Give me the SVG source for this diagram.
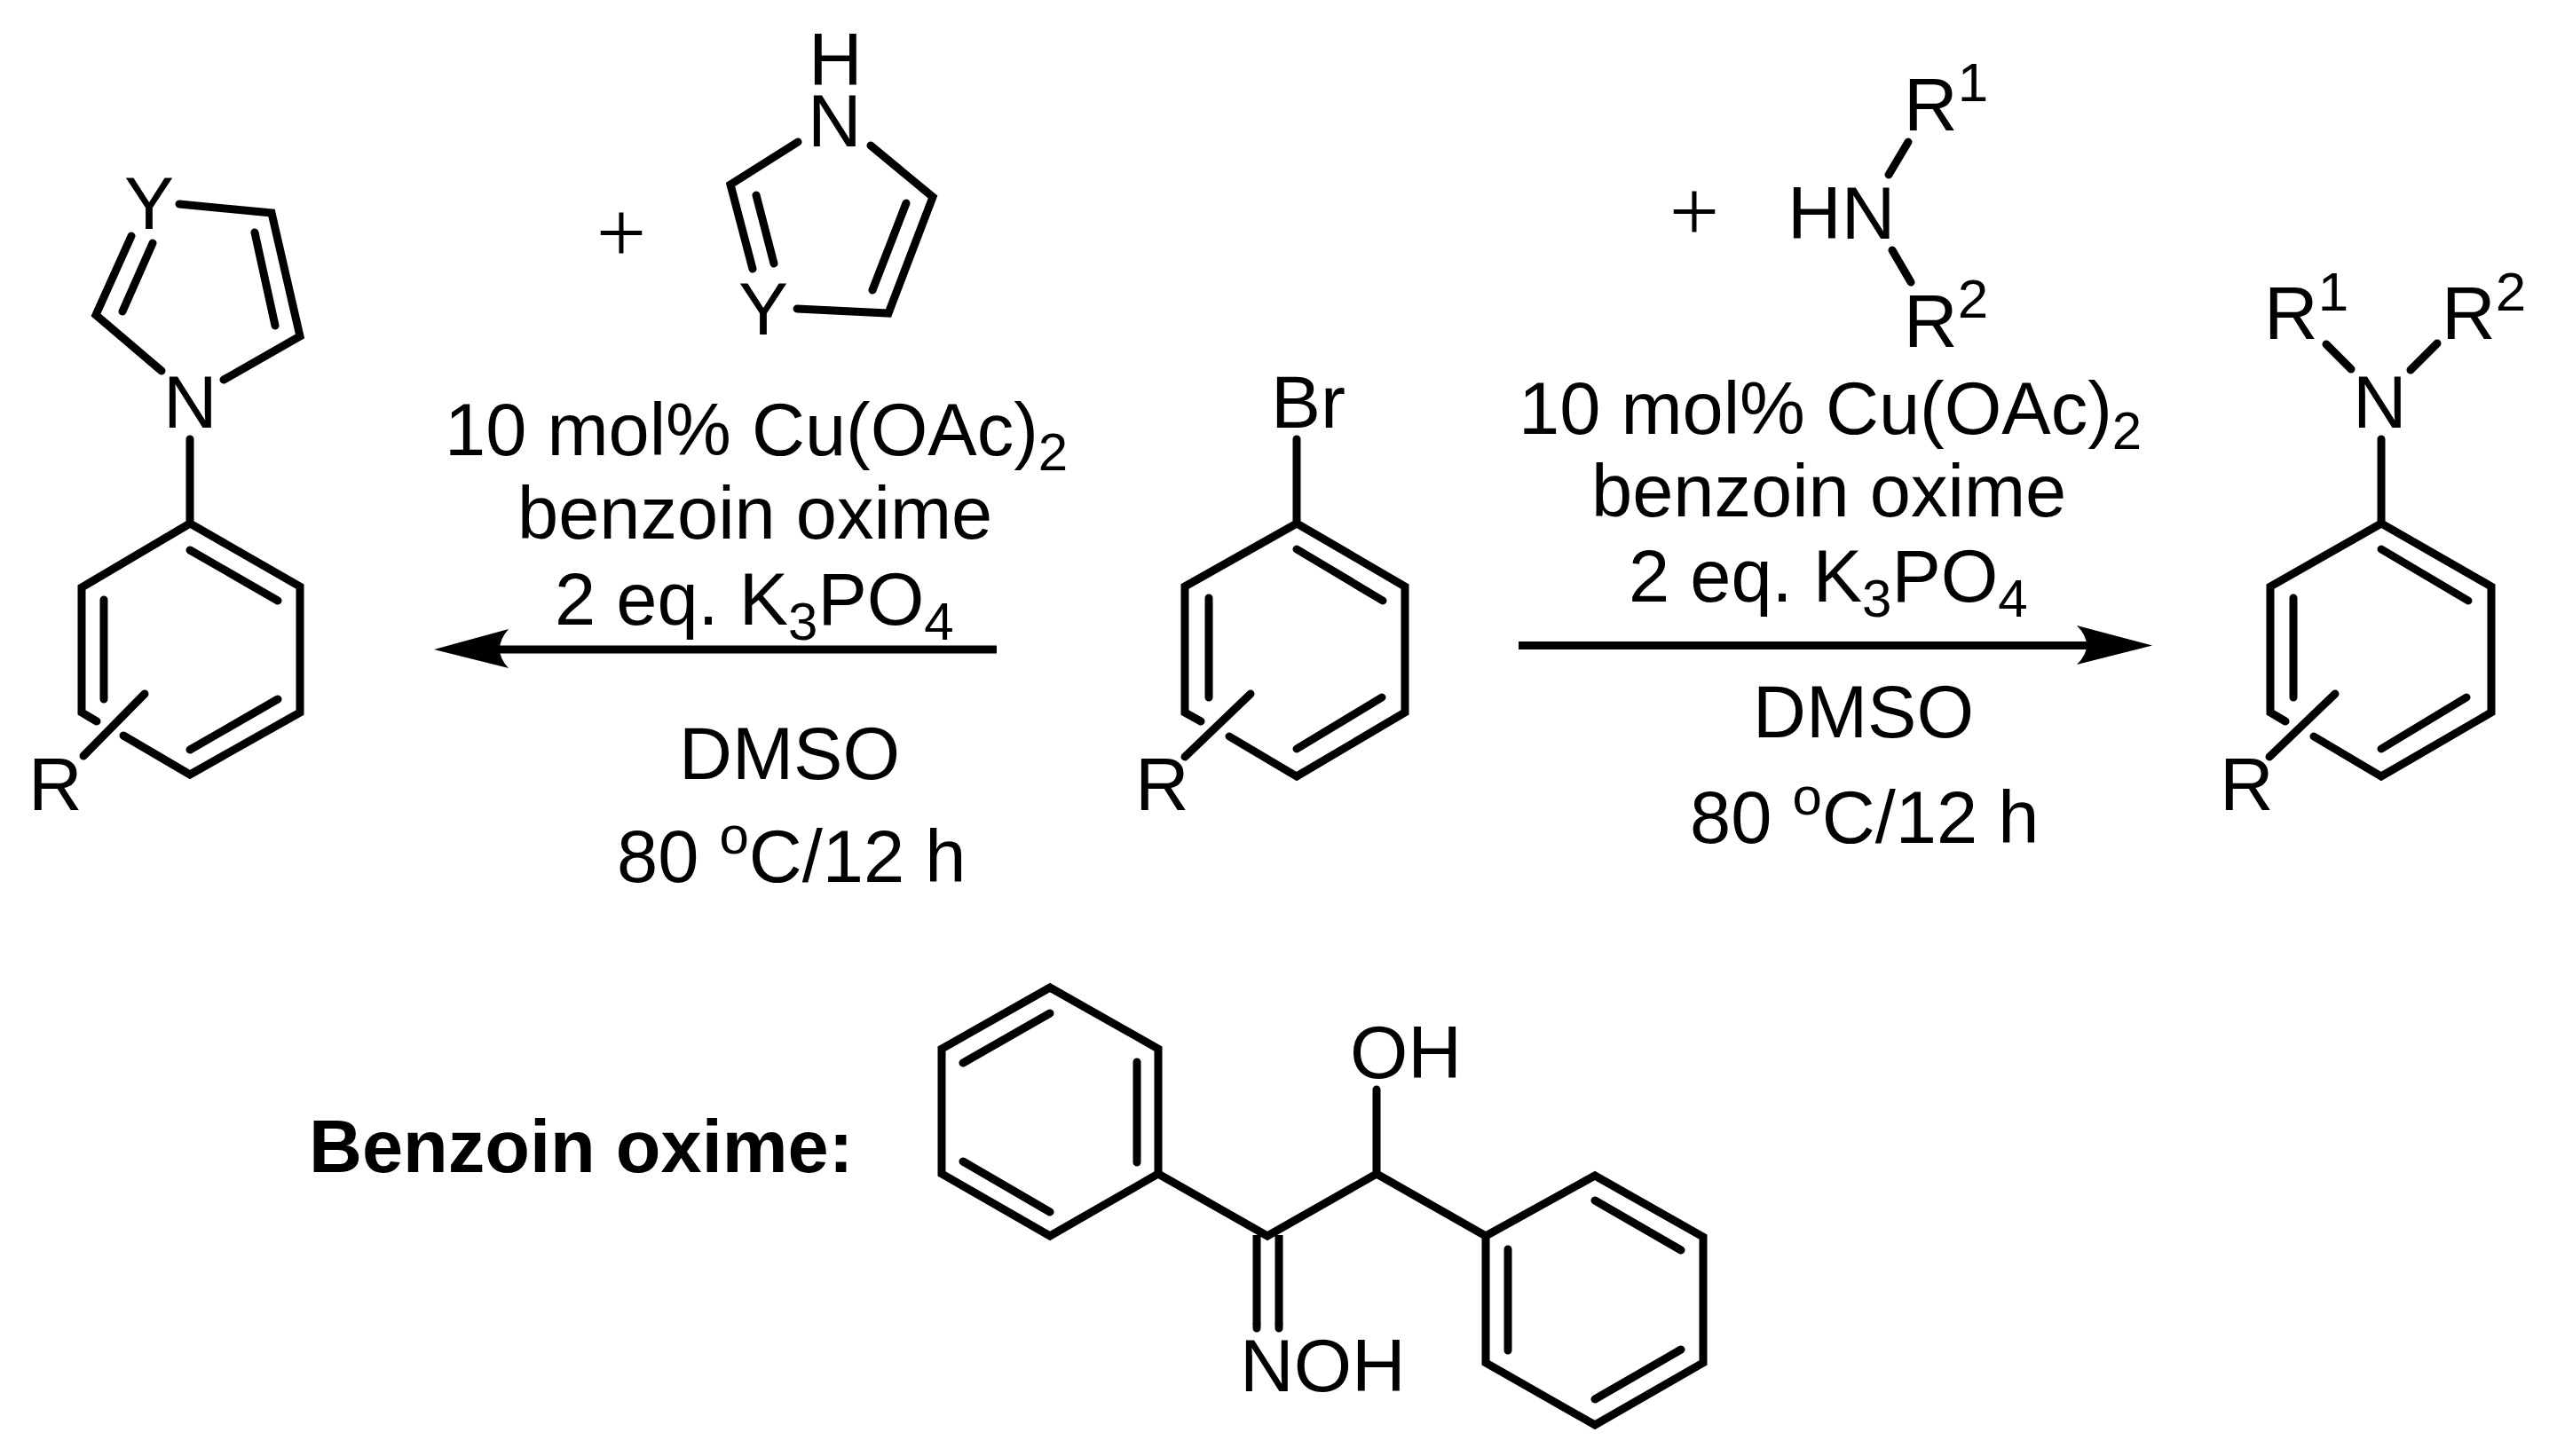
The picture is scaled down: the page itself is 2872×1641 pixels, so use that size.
<svg xmlns="http://www.w3.org/2000/svg" width="2872" height="1641" viewBox="0 0 2872 1641">
<style>
text{font-family:"Liberation Sans",Arial,sans-serif;font-size:84px;fill:#000}
.c{font-size:83px}
.b{font-weight:bold;font-size:83px}
.p{font-family:"Liberation Serif","Times New Roman",serif;font-size:100px;text-anchor:middle}
.s{font-size:62px}
.u{font-size:60px}
path{fill:none;stroke:#000;stroke-width:9;stroke-linejoin:miter;stroke-linecap:round}
.a{stroke-linecap:butt}
.h{fill:#000;stroke:none}
</style>
<rect width="2872" height="1641" fill="#fff"/>
<g id="connectors">
<path class="a" d="M1123 732H560"/><path class="h" d="M489 732L573 709Q553 732 573 753Z"/>
<path class="a" d="M1711 727.500H2355"/><path class="h" d="M2425 727.500L2340 705Q2362 727.500 2340 749Z"/>
</g>
<g id="product-azole">
<path d="M214 495V590L338 661V803L214 873L139 829M94 852L163 782M109 813L92 803V662L214 590M214 620L313 677M117 676V788M214 845L313 788"/>
<path d="M182 418L108 355L148 266M138 351L172 274M202 230L306 240L338 379L252 428M287 262L310 367"/>
<text x="140" y="258">Y</text><text x="184" y="482">N</text><text x="32" y="913">R</text>
</g>
<g id="reagent-azole">
<path d="M899 160L823 208L848 303M852 220L872 297M981 164L1051 222L1001 353L898 348M1021 229L983 327"/>
<text x="911" y="96">H</text><text x="910" y="165">N</text><text x="832" y="377">Y</text>
<text class="p" x="700" y="296">+</text>
</g>
<g id="conditions-left">
<text class="c" x="501" y="513">10 mol% Cu(OAc)<tspan class="u" dy="17">2</tspan></text>
<text class="c" x="583" y="607">benzoin oxime</text>
<text class="c" x="625" y="704">2 eq. K<tspan class="u" dy="17">3</tspan><tspan dy="-17">PO</tspan><tspan class="u" dy="17">4</tspan></text>
<text class="c" x="765" y="878">DMSO</text>
<text class="c" x="695" y="994">80 <tspan class="u" dy="-32">o</tspan><tspan dy="32">C/12 h</tspan></text>
</g>
<g id="aryl-bromide">
<path d="M1461 495V590L1583 661V803L1461 875L1385 830M1335 853L1409 782M1353 813L1335 803V661L1461 590M1461 619L1558 677M1362 674V786M1461 844L1557 786"/>
<text x="1432" y="482">Br</text><text x="1279" y="913">R</text>
</g>
<g id="reagent-amine">
<path d="M2150 160L2128 197M2132 282L2153 318"/>
<text x="2145" y="147">R<tspan class="s" dy="-33">1</tspan></text>
<text x="2014" y="269">HN</text>
<text x="2145" y="391">R<tspan class="s" dy="-33">2</tspan></text>
<text class="p" x="1909" y="272">+</text>
</g>
<g id="conditions-right">
<text class="c" x="1711" y="489">10 mol% Cu(OAc)<tspan class="u" dy="17">2</tspan></text>
<text class="c" x="1793" y="582">benzoin oxime</text>
<text class="c" x="1835" y="678">2 eq. K<tspan class="u" dy="17">3</tspan><tspan dy="-17">PO</tspan><tspan class="u" dy="17">4</tspan></text>
<text class="c" x="1975" y="831">DMSO</text>
<text class="c" x="1904" y="950">80 <tspan class="u" dy="-32">o</tspan><tspan dy="32">C/12 h</tspan></text>
</g>
<g id="product-amine">
<path d="M2683 495V590L2807 661V803L2683 875L2607 830M2557 853L2631 782M2575 813L2558 803V661L2683 590M2683 619L2781 677M2584 674V786M2683 844L2779 786M2621 388L2649 416M2746 387L2716 417"/>
<text x="2651" y="482">N</text><text x="2501" y="913">R</text>
<text x="2551" y="382">R<tspan class="s" dy="-32">1</tspan></text>
<text x="2751" y="382">R<tspan class="s" dy="-32">2</tspan></text>
</g>
<g id="benzoin-oxime">
<path d="M1183 1113L1305 1182V1323L1183 1393L1061 1323V1182ZM1183 1142L1085 1198M1281 1197V1310M1085 1309L1183 1366"/>
<path d="M1305 1323L1428 1393L1551 1323L1674 1393M1551 1228V1323"/>
<path class="a" d="M1416 1392V1493M1441 1392V1493"/>
<path d="M1416 1493V1497M1441 1493V1497"/>
<path d="M1674 1393L1797 1325L1919 1394V1536L1797 1606L1674 1536ZM1797 1353L1894 1409M1699 1408V1522M1894 1521L1797 1577"/>
<text x="1521" y="1215">OH</text><text x="1397" y="1568">NOH</text>
</g>
<g id="caption"><text class="b" x="348" y="1321">Benzoin oxime:</text></g>
</svg>
